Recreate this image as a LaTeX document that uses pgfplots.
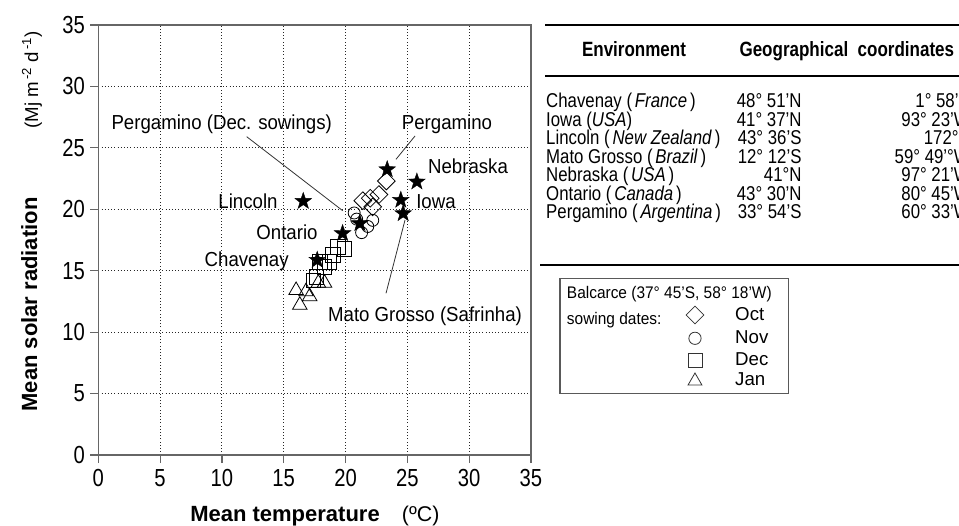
\documentclass[border=0pt]{standalone}
\usepackage{pgfplots}
\pgfplotsset{compat=1.18}
\usepackage{fontspec}
\setmainfont{Liberation Sans}

\pgfdeclareplotmark{fstar}{%
  \pgfpathmoveto{\pgfpointpolar{90}{\pgfplotmarksize}}%
  \pgfpathlineto{\pgfpointpolar{126}{0.4\pgfplotmarksize}}%
  \pgfpathlineto{\pgfpointpolar{162}{\pgfplotmarksize}}%
  \pgfpathlineto{\pgfpointpolar{198}{0.4\pgfplotmarksize}}%
  \pgfpathlineto{\pgfpointpolar{234}{\pgfplotmarksize}}%
  \pgfpathlineto{\pgfpointpolar{270}{0.4\pgfplotmarksize}}%
  \pgfpathlineto{\pgfpointpolar{306}{\pgfplotmarksize}}%
  \pgfpathlineto{\pgfpointpolar{342}{0.4\pgfplotmarksize}}%
  \pgfpathlineto{\pgfpointpolar{18}{\pgfplotmarksize}}%
  \pgfpathlineto{\pgfpointpolar{54}{0.4\pgfplotmarksize}}%
  \pgfpathclose
  \pgfusepathqfillstroke
}

\newcommand\tfont{\fontsize{15}{18}\selectfont}
\newcommand\afont{\fontsize{15.2}{18}\selectfont}
\newcommand\lfont{\fontsize{12.6}{15}\selectfont}
\newcommand\mfont{\fontsize{14}{17}\selectfont}

\begin{document}
\begin{tikzpicture}
\begin{axis}[
  at={(73.725pt,52.5pt)}, anchor=south west,
  scale only axis, width=324.5pt, height=322.5pt,
  xmin=0, xmax=35, ymin=0, ymax=35,
  xtick={0,5,...,35}, ytick={0,5,...,35},
  xtick pos=bottom, ytick pos=left,
  tick align=outside, major tick length=6pt,
  grid=major,
  major grid style={dotted, black!85, line width=0.8pt},
  axis line style={black!60, line width=0.9pt},
  every tick/.style={black!60, line width=0.9pt},
  ticklabel style={font=\fontsize{18.5}{22}\selectfont, xscale=0.82},
  xticklabel style={yshift=-1pt},
  yticklabel style={xshift=-1.5pt},
  /pgf/number format/assume math mode=true,
  clip=false,
]
\addplot[only marks, mark=triangle, mark size=6.3pt,
  mark options={fill=white, draw=black, line width=0.6pt}] coordinates {
  (16.0,13.4) (16.8,13.3) (16.3,12.2) (17.1,12.9) (17.8,14.0) (18.3,14.0)
};
\addplot[only marks, mark=square, mark size=5.5pt,
  mark options={fill=white, draw=black, line width=0.6pt}] coordinates {
  (17.4,14.2) (17.65,14.5) (17.9,15.7) (18.3,15.3) (18.7,15.7) (19.0,16.3) (19.4,16.95) (19.9,16.8)
};
\addplot[only marks, mark=o, mark size=4.5pt,
  mark options={fill=white, draw=black, line width=0.6pt}] coordinates {
  (21.3,18.1) (21.8,18.6) (22.2,19.1) (20.9,19.2) (20.7,19.7)
};
\addplot[only marks, mark=square, mark size=4.7pt,
  mark options={fill=white, draw=black, line width=0.6pt, rotate=45}] coordinates {
  (22.2,20.2) (21.4,20.7) (22.0,20.9) (22.7,21.2) (23.3,22.3)
};
\addplot[only marks, mark=fstar, mark size=6.6pt,
  mark options={fill=black, draw=black, line width=0.3pt}] coordinates {
  (23.37,23.24) (25.77,22.24) (16.58,20.66) (24.47,20.75) (24.66,19.66) (21.16,18.85) (19.76,18.04) (17.71,15.87)
};
\end{axis}

% legend box
\begin{axis}[
  at={(420pt,98.775pt)}, anchor=south west,
  scale only axis, width=171.2pt, height=86.25pt,
  xmin=560, xmax=788.3, ymin=131.7, ymax=246.7,
  xtick=\empty, ytick=\empty,
  axis line style={black!65, line width=0.8pt},
  clip=false,
]
\addplot[only marks, mark=square, mark size=4.7pt,
  mark options={fill=white, draw=black!80, line width=0.6pt, rotate=45}] coordinates {(695,210)};
\addplot[only marks, mark=o, mark size=4.6pt,
  mark options={fill=white, draw=black!80, line width=0.6pt}] coordinates {(695,186.7)};
\addplot[only marks, mark=square, mark size=5.2pt,
  mark options={fill=white, draw=black!80, line width=0.6pt}] coordinates {(695,165)};
\addplot[only marks, mark=triangle, mark size=6pt,
  mark options={fill=white, draw=black!80, line width=0.6pt}] coordinates {(695,144)};
\node[anchor=base west, inner sep=0pt, font=\lfont, xscale=0.92] at (axis cs:566.7,226.2) {Balcarce (37° 45'S, 58° 18'W)};
\node[anchor=base west, inner sep=0pt, font=\lfont, xscale=0.92] at (axis cs:566.7,200.2) {sowing dates:};
\node[anchor=base west, inner sep=0pt, font=\mfont] at (axis cs:735,204.5) {Oct};
\node[anchor=base west, inner sep=0pt, font=\mfont] at (axis cs:735,181.2) {Nov};
\node[anchor=base west, inner sep=0pt, font=\mfont] at (axis cs:735,159.5) {Dec};
\node[anchor=base west, inner sep=0pt, font=\mfont] at (axis cs:735,139.5) {Jan};
\end{axis}

\begin{scope}[x=0.75pt,y=0.75pt]
% annotations
\draw[black!80, line width=0.6pt] (246.7,388.3) -- (342.7,314.3);
\draw[black!80, line width=0.6pt] (415,389) -- (396,365.7);
\draw[black!80, line width=0.6pt] (405,305) -- (386,231.7);
\begin{scope}[every node/.style={inner sep=0pt, font=\afont, anchor=base, xscale=0.92}]
\node at (221.7,395.5) {Pergamino (Dec. sowings)};
\node at (447,395.5) {Pergamino};
\node at (468,351.5) {Nebraska};
\node at (248,316.2) {Lincoln};
\node at (436,316.2) {Iowa};
\node at (287,285.5) {Ontario};
\node at (246.7,258.9) {Chavenay};
\node at (425,203.9) {Mato Grosso (Safrinha)};
\end{scope}

% axis labels
\node[rotate=90, anchor=base, inner sep=0pt, font=\fontsize{16.5}{19}\selectfont\bfseries] at (37,220.5) {Mean solar radiation};
\node[rotate=90, anchor=base, inner sep=0pt, font=\mfont] at (38,445) {(Mj m\textsuperscript{\,-2} d\textsuperscript{\,-1})};
\node[anchor=base west, inner sep=0pt, font=\fontsize{16.5}{19}\selectfont\bfseries] at (190,4) {Mean temperature};
\node[anchor=base west, inner sep=0pt, font=\fontsize{16}{19}\selectfont] at (401.7,4) {(ºC)};

% table
\begin{scope}
\clip (0,0) rectangle (959,525);
\draw[line width=2pt] (545,500) -- (965,500);
\draw[line width=2pt] (545,449) -- (965,449);
\draw[line width=2.2pt] (540,260) -- (965,260);
\begin{scope}[every node/.style={inner sep=0pt, font=\tfont, xscale=0.84}]
\node[anchor=base, font=\fontsize{15.5}{18}\selectfont\bfseries, xscale=0.98] at (634,468.9) {Environment};
\node[anchor=base west, font=\fontsize{15.5}{18}\selectfont\bfseries, xscale=0.98] at (739.3,468.9) {Geographical\ \ coordinates};
\node[anchor=base west] at (546,417.4) {Chavenay (\,\textit{France}\,)};
\node[anchor=base west] at (546,398.9) {Iowa (\textit{USA})};
\node[anchor=base west] at (546,380.4) {Lincoln (\,\textit{New Zealand}\,)};
\node[anchor=base west] at (546,361.9) {Mato Grosso (\,\textit{Brazil}\,)};
\node[anchor=base west] at (546,343.4) {Nebraska (\,\textit{USA}\,)};
\node[anchor=base west] at (546,324.9) {Ontario (\,\textit{Canada}\,)};
\node[anchor=base west] at (546,306.4) {Pergamino (\,\textit{Argentina}\,)};
\node[anchor=base east] at (801.7,417.4) {48° 51'N};
\node[anchor=base east] at (801.7,398.9) {41° 37'N};
\node[anchor=base east] at (801.7,380.4) {43° 36'S};
\node[anchor=base east] at (801.7,361.9) {12° 12'S};
\node[anchor=base east] at (801.7,343.4) {41°N};
\node[anchor=base east] at (801.7,324.9) {43° 30'N};
\node[anchor=base east] at (801.7,306.4) {33° 54'S};
\node[anchor=base east] at (970,417.4) {1° 58'E};
\node[anchor=base east] at (970,398.9) {93° 23'W};
\node[anchor=base east] at (970,380.4) {172°E};
\node[anchor=base east] at (970,361.9) {59° 49'°W};
\node[anchor=base east] at (970,343.4) {97° 21'W};
\node[anchor=base east] at (970,324.9) {80° 45'W};
\node[anchor=base east] at (970,306.4) {60° 33'W};
\end{scope}
\end{scope}
\pgfresetboundingbox
\path[use as bounding box] (0,0) rectangle (959,525);
\end{scope}
\end{tikzpicture}
\end{document}
